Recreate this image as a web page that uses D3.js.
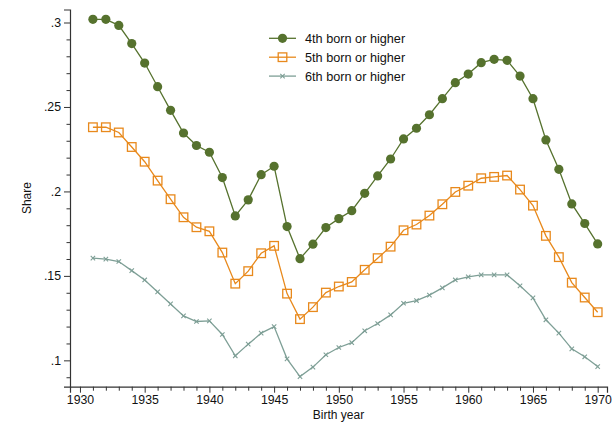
<!DOCTYPE html>
<html>
<head>
<meta charset="utf-8">
<script src="https://cdn.jsdelivr.net/npm/d3@7"></script>
<style>
  body { margin: 0; background: #fff; }
  svg { font-family: "Liberation Sans", Arial, sans-serif; }
</style>
</head>
<body>
<svg id="chart"></svg>
<script>
const width = 612;
const height = 425;

// Data
const years = d3.range(1931, 1971);
const fourth = [0.3019, 0.3019, 0.2983, 0.2875, 0.2760, 0.2620, 0.2480, 0.2346, 0.2272, 0.2232,
                0.2082, 0.1855, 0.1950, 0.2099, 0.2149, 0.1792, 0.1602, 0.1688, 0.1786, 0.1839,
                0.1886, 0.1989, 0.2092, 0.2192, 0.2311, 0.2374, 0.2454, 0.2549, 0.2644, 0.2695,
                0.2762, 0.2782, 0.2776, 0.2683, 0.2549, 0.2305, 0.2131, 0.1926, 0.1810, 0.1689];
const fifth = [0.2380, 0.2380, 0.2349, 0.2263, 0.2176, 0.2064, 0.1954, 0.1847, 0.1788, 0.1764,
               0.1638, 0.1454, 0.1528, 0.1634, 0.1678, 0.1395, 0.1244, 0.1315, 0.1401, 0.1437,
               0.1464, 0.1536, 0.1605, 0.1673, 0.1770, 0.1804, 0.1857, 0.1924, 0.1997, 0.2034,
               0.2078, 0.2086, 0.2094, 0.2011, 0.1916, 0.1737, 0.1611, 0.1460, 0.1372, 0.1285];
const sixth = [0.1605, 0.1599, 0.1585, 0.1531, 0.1476, 0.1405, 0.1334, 0.1263, 0.1230, 0.1234,
               0.1153, 0.1027, 0.1096, 0.1161, 0.1200, 0.1009, 0.0904, 0.0960, 0.1033, 0.1076,
               0.1105, 0.1175, 0.1218, 0.1269, 0.1338, 0.1354, 0.1386, 0.1429, 0.1476, 0.1494,
               0.1506, 0.1506, 0.1506, 0.1441, 0.1370, 0.1240, 0.1161, 0.1068, 0.1021, 0.0963];
const seriesNames = ["4th born or higher", "5th born or higher", "6th born or higher"];
const xTicks = [1930, 1935, 1940, 1945, 1950, 1955, 1960, 1965, 1970];
const yTicks = [0.1, 0.15, 0.2, 0.25, 0.3];

const series = [
  { name: seriesNames[0], values: fourth, color: "#56722e", marker: "circle" },
  { name: seriesNames[1], values: fifth, color: "#e8891c", marker: "square" },
  { name: seriesNames[2], values: sixth, color: "#7e9f96", marker: "x" }
];

const svg = d3.select("#chart").attr("width", width).attr("height", height);

const plotLeft = 70, plotRight = 607, plotTop = 9.5, plotBottom = 386.7;

const x = d3.scaleLinear().domain([1929.23, 1970.72]).range([plotLeft, plotRight]);
const y = d3.scaleLinear().domain([0.0844, 0.3077]).range([plotBottom, plotTop]);

const fmt = v => d3.format(".2~f")(v).replace(/^0/, "");
const axisColor = "#333";

// y axis
svg.append("g").attr("transform", `translate(${plotLeft},0)`)
  .call(d3.axisLeft(y).tickValues(yTicks).tickFormat(fmt).tickSize(6).tickPadding(3));
svg.append("g").attr("transform", `translate(${plotLeft},0)`)
  .call(d3.axisLeft(y).tickValues(d3.range(0.09, 0.305, 0.01).filter(v => !yTicks.some(t => Math.abs(t - v) < 1e-6)))
    .tickFormat("").tickSize(3.5))
  .call(g => g.select(".domain").remove());

// x axis
svg.append("g").attr("transform", `translate(0,${plotBottom})`)
  .call(d3.axisBottom(x).tickValues(xTicks).tickFormat(d3.format("d")).tickSize(6).tickPadding(3));
svg.append("g").attr("transform", `translate(0,${plotBottom})`)
  .call(d3.axisBottom(x).tickValues(d3.range(1930, 1971).filter(v => v % 5 !== 0)).tickFormat("").tickSize(4))
  .call(g => g.select(".domain").remove());

svg.selectAll(".domain").attr("stroke", axisColor).attr("stroke-width", 1.2);
svg.selectAll(".tick line").attr("stroke", axisColor).attr("stroke-width", 1);
svg.selectAll(".tick text").attr("fill", "#111").style("font-size", "12.3px")
  .style("font-family", "'Liberation Sans', Arial, sans-serif");

// axis titles
svg.append("text").attr("x", (plotLeft + plotRight) / 2).attr("y", 419)
  .attr("text-anchor", "middle").style("font-size", "12px").attr("fill", "#111").text("Birth year");
svg.append("text").attr("transform", `translate(31,${(plotTop + plotBottom) / 2}) rotate(-90)`)
  .attr("text-anchor", "middle").style("font-size", "12px").attr("fill", "#111").text("Share");

function drawMarker(g, type, color) {
  if (type === "circle") {
    g.append("circle").attr("r", 4.6).attr("fill", color);
  } else if (type === "square") {
    g.append("rect").attr("x", -4.3).attr("y", -4.3).attr("width", 8.6).attr("height", 8.6)
      .attr("fill", "none").attr("stroke", color).attr("stroke-width", 1.3);
  } else {
    g.append("path").attr("d", "M-2.2,-2.2L2.2,2.2M-2.2,2.2L2.2,-2.2")
      .attr("stroke", color).attr("stroke-width", 1.1).attr("fill", "none");
  }
}

const line = d3.line().x((d, i) => x(years[i])).y(d => y(d));

series.forEach(s => {
  svg.append("path").attr("d", line(s.values)).attr("fill", "none")
    .attr("stroke", s.color).attr("stroke-width", 1.3);
  svg.append("g").selectAll("g").data(s.values).join("g")
    .attr("transform", (d, i) => `translate(${x(years[i])},${y(d)})`)
    .each(function () { drawMarker(d3.select(this), s.marker, s.color); });
});

// legend
const legend = svg.append("g").attr("transform", "translate(269,38.3)");
series.forEach((s, i) => {
  const row = legend.append("g").attr("transform", `translate(0,${i * 18.9})`);
  row.append("line").attr("x1", 0).attr("x2", 27).attr("stroke", s.color).attr("stroke-width", 1.3);
  drawMarker(row.append("g").attr("transform", "translate(13.5,0)"), s.marker, s.color);
  row.append("text").attr("x", 36).attr("dy", "0.35em").style("font-size", "12.7px")
    .attr("fill", "#111").text(s.name);
});
</script>
</body>
</html>
